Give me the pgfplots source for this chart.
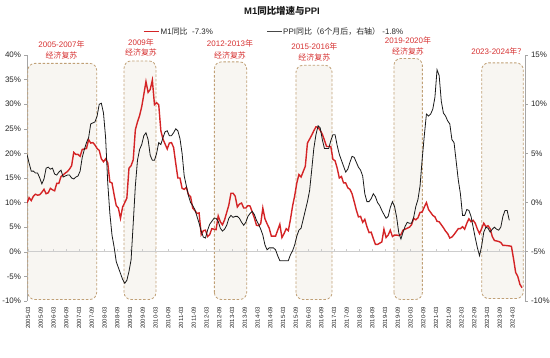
\documentclass[border=0pt]{standalone}
\usepackage{fontspec}
\setmainfont{Liberation Sans}
\newfontfamily\cjk{Noto Sans CJK SC}
\usepackage{pgfplots}
\usepackage{pgfplotstable}
\pgfplotsset{compat=1.18}
\definecolor{mred}{RGB}{212,36,38}
\definecolor{anno}{RGB}{214,50,50}
\definecolor{pblack}{RGB}{25,25,25}
\definecolor{boxfill}{RGB}{248,246,242}
\definecolor{boxline}{RGB}{192,160,118}
\definecolor{axgray}{RGB}{165,165,165}
\definecolor{zgray}{RGB}{205,205,205}

% M1 YoY, 2005-03 .. 2024-08
\pgfplotstableread[row sep=\\]{
v\\
9.9\\ 11.0\\ 10.4\\ 11.3\\ 11.7\\ 11.5\\ 11.6\\ 12.1\\ 12.7\\ 11.8\\
12.0\\ 12.9\\ 12.6\\ 12.4\\ 13.9\\ 13.9\\ 15.3\\ 15.6\\ 16.0\\ 16.3\\ 16.8\\ 17.5\\
20.2\\ 19.8\\ 19.8\\ 19.4\\ 20.8\\ 20.9\\ 21.0\\ 22.8\\ 22.1\\ 22.2\\ 21.7\\ 21.0\\
20.6\\ 18.9\\ 18.3\\ 18.9\\ 18.1\\ 14.2\\ 14.0\\ 11.6\\ 9.4\\ 8.9\\ 6.8\\ 9.1\\
10.0\\ 10.9\\ 17.0\\ 17.5\\ 18.7\\ 24.8\\ 26.4\\ 27.7\\ 29.5\\ 32.0\\ 34.6\\ 32.4\\
33.0\\ 34.9\\ 29.9\\ 30.3\\ 29.9\\ 24.6\\ 22.9\\ 21.9\\ 20.9\\ 22.1\\ 22.2\\ 21.2\\
18.0\\ 15.0\\ 15.0\\ 12.9\\ 12.7\\ 13.1\\ 11.6\\ 11.2\\ 8.9\\ 8.4\\ 7.8\\ 7.9\\
3.5\\ 4.3\\ 4.4\\ 3.1\\ 3.5\\ 4.7\\ 4.6\\ 4.5\\ 7.3\\ 6.1\\ 5.5\\ 6.5\\
8.0\\ 9.5\\ 11.9\\ 11.9\\ 11.3\\ 9.1\\ 9.7\\ 9.9\\ 8.9\\ 8.9\\ 9.4\\ 9.3\\
8.1\\ 6.9\\ 5.4\\ 5.3\\ 5.7\\ 8.9\\ 6.7\\ 5.7\\ 4.8\\ 3.2\\ 3.2\\ 3.2\\
4.4\\ 5.6\\ 2.9\\ 3.7\\ 4.7\\ 4.3\\ 6.6\\ 9.3\\ 11.4\\ 14.0\\ 15.7\\ 15.2\\
16.3\\ 17.4\\ 22.1\\ 22.9\\ 23.7\\ 24.6\\ 25.4\\ 25.3\\ 24.7\\ 23.9\\ 22.7\\ 21.4\\
21.4\\ 21.4\\ 18.8\\ 18.5\\ 17.0\\ 15.0\\ 15.3\\ 14.0\\ 14.0\\ 13.0\\ 12.7\\ 11.8\\
10.2\\ 8.5\\ 7.1\\ 7.2\\ 6.0\\ 6.6\\ 5.1\\ 3.9\\ 4.0\\ 2.7\\ 1.5\\ 1.5\\
1.75\\ 2.0\\ 4.6\\ 2.9\\ 3.4\\ 4.4\\ 3.1\\ 3.4\\ 3.4\\ 3.3\\ 3.5\\ 4.4\\
4.6\\ 4.8\\ 5.0\\ 5.5\\ 6.8\\ 6.5\\ 6.9\\ 8.0\\ 8.1\\ 9.1\\ 10.0\\ 8.6\\
8.0\\ 7.4\\ 7.1\\ 6.2\\ 6.1\\ 5.5\\ 4.9\\ 4.2\\ 3.7\\ 2.8\\ 3.0\\ 3.5\\
4.1\\ 4.7\\ 4.7\\ 5.1\\ 4.6\\ 5.8\\ 6.7\\ 6.1\\ 6.4\\ 5.8\\ 4.6\\ 3.7\\
4.75\\ 5.8\\ 5.1\\ 5.3\\ 4.7\\ 3.1\\ 2.3\\ 2.2\\ 2.1\\ 1.9\\ 1.3\\ 1.3\\
1.25\\ 1.2\\ 1.1\\ -1.4\\ -4.2\\ -5.0\\ -6.6\\ -7.3\\
}\mone

% PPI YoY shifted 6 months: plotted at 2005-03 .. 2024-02 = PPI 2005-09 .. 2024-08
\pgfplotstableread[row sep=\\]{
v\\
4.9\\ 4.0\\ 3.2\\ 3.2\\
3.0\\ 3.0\\ 2.5\\ 1.9\\ 2.4\\ 3.5\\ 3.6\\ 3.4\\ 3.5\\ 2.9\\ 2.8\\ 3.1\\
3.3\\ 2.6\\ 2.7\\ 2.8\\ 2.8\\ 2.5\\ 2.4\\ 2.6\\ 2.7\\ 3.2\\ 4.6\\ 5.4\\
6.1\\ 6.6\\ 8.0\\ 8.1\\ 8.2\\ 8.8\\ 10.0\\ 10.1\\ 9.1\\ 6.6\\ 2.0\\ -1.1\\
-3.3\\ -4.5\\ -6.0\\ -6.6\\ -7.2\\ -7.8\\ -8.2\\ -7.9\\ -7.0\\ -5.8\\ -2.1\\ 1.7\\
4.3\\ 5.4\\ 5.9\\ 6.8\\ 7.1\\ 6.4\\ 4.8\\ 4.3\\ 4.3\\ 5.0\\ 6.1\\ 5.9\\
6.6\\ 7.2\\ 7.3\\ 6.8\\ 6.8\\ 7.1\\ 7.5\\ 7.3\\ 6.5\\ 5.0\\ 2.7\\ 1.7\\
0.7\\ 0.0\\ -0.3\\ -0.7\\ -1.4\\ -2.1\\ -2.9\\ -3.5\\ -3.6\\ -2.8\\ -2.2\\ -1.9\\
-1.6\\ -1.6\\ -1.9\\ -2.6\\ -2.9\\ -2.7\\ -2.3\\ -1.6\\ -1.3\\ -1.5\\ -1.4\\ -1.4\\
-1.6\\ -2.0\\ -2.3\\ -2.0\\ -1.4\\ -1.1\\ -0.9\\ -1.2\\ -1.8\\ -2.2\\ -2.7\\ -3.3\\
-4.3\\ -4.8\\ -4.6\\ -4.6\\ -4.6\\ -4.8\\ -5.4\\ -5.9\\ -5.9\\ -5.9\\ -5.9\\ -5.9\\
-5.3\\ -4.9\\ -4.3\\ -3.4\\ -2.8\\ -2.6\\ -1.7\\ -0.8\\ 0.1\\ 1.2\\ 3.3\\ 5.5\\
6.9\\ 7.8\\ 7.6\\ 6.4\\ 5.5\\ 5.5\\ 5.5\\ 6.3\\ 6.9\\ 6.9\\ 5.8\\ 4.9\\
4.3\\ 3.7\\ 3.1\\ 3.4\\ 4.1\\ 4.7\\ 4.6\\ 4.1\\ 3.6\\ 3.3\\ 2.7\\ 0.9\\
0.1\\ 0.1\\ 0.4\\ 0.9\\ 0.6\\ 0.0\\ -0.3\\ -0.8\\ -1.2\\ -1.6\\ -1.4\\ -0.5\\
0.1\\ -0.4\\ -1.5\\ -3.1\\ -3.7\\ -3.0\\ -2.4\\ -2.0\\ -2.1\\ -2.1\\ -1.5\\ -0.4\\
0.3\\ 1.7\\ 4.4\\ 6.8\\ 9.0\\ 8.8\\ 9.0\\ 9.5\\ 10.7\\ 13.5\\ 12.9\\ 10.3\\
9.1\\ 8.8\\ 8.3\\ 8.0\\ 6.4\\ 6.1\\ 4.2\\ 2.3\\ 0.9\\ -1.3\\ -1.3\\ -0.7\\
-0.8\\ -1.4\\ -2.5\\ -3.6\\ -4.6\\ -5.4\\ -4.4\\ -3.0\\ -2.5\\ -2.6\\ -3.0\\ -2.7\\
-2.5\\ -2.7\\ -2.8\\ -2.5\\ -1.4\\ -0.8\\ -0.8\\ -1.8\\
}\ppi

\pgfplotsset{
  basegeom/.style={
    at={(27bp,57bp)}, anchor=south west, scale only axis,
    width=498bp, height=246bp, xmin=0, xmax=234.4,
    tick align=outside, major tick length=2.5bp,
    yticklabel style={font=\fontsize{8}{9}\selectfont, text=black!85},
  }
}

\begin{document}
\begin{tikzpicture}
\path[use as bounding box] (0,0) rectangle (550bp,358bp);

\begin{axis}[basegeom,
  ymin=-10, ymax=40,
  axis y line*=left, axis x line*=bottom,
  x axis line style={draw=none},
  y axis line style={axgray, line width=0.6bp},
  ytick={-10,-5,...,40},
  yticklabels={-10\%,-5\%,0\%,5\%,10\%,15\%,20\%,25\%,30\%,35\%,40\%},
  xtick={0.5,6.5,...,228.5},
  xticklabels={2005-03,2005-09,2006-03,2006-09,2007-03,2007-09,2008-03,2008-09,2009-03,2009-09,2010-03,2010-09,2011-03,2011-09,2012-03,2012-09,2013-03,2013-09,2014-03,2014-09,2015-03,2015-09,2016-03,2016-09,2017-03,2017-09,2018-03,2018-09,2019-03,2019-09,2020-03,2020-09,2021-03,2021-09,2022-03,2022-09,2023-03,2023-09,2024-03},
  x tick style={draw=none},
  y tick style={axgray, line width=0.6bp},
  xticklabel style={font=\fontsize{6}{7}\selectfont, rotate=90, anchor=east, text=black!85},
]
\tikzset{rbox/.style={draw=boxline, fill=boxfill, dash pattern=on 2.5bp off 1.8bp, line width=0.8bp, rounded corners=7bp}}
\draw[rbox] (axis cs:0.4,-9.7) rectangle (axis cs:32.8,38.3);
\draw[rbox] (axis cs:45.7,-9.7) rectangle (axis cs:60.7,38.8);
\draw[rbox] (axis cs:88.2,-9.7) rectangle (axis cs:103.4,38.6);
\draw[rbox] (axis cs:126.6,-9.7) rectangle (axis cs:143.6,37.9);
\draw[rbox] (axis cs:172.7,-9.7) rectangle (axis cs:186.1,39.3);
\draw[rbox] (axis cs:214.0,-9.5) rectangle (axis cs:233.6,38.4);
\draw[zgray, line width=1.3bp] (axis cs:0,0) -- (axis cs:234.4,0);
\pgfplotsinvokeforeach{0,...,38}{\draw[zgray, line width=0.6bp] (axis cs:{0.5+6*#1},0) -- ([yshift=2.5bp]axis cs:{0.5+6*#1},0);}
\addplot[mred, line width=1.4bp, no markers] table[x expr=\coordindex, y=v] {\mone};
\end{axis}

\begin{axis}[basegeom,
  ymin=-10, ymax=15,
  axis y line*=right, axis x line=none,
  y axis line style={axgray, line width=0.6bp},
  y tick style={axgray, line width=0.6bp},
  ytick={-10,-5,...,15},
  yticklabels={-10\%,-5\%,0\%,5\%,10\%,15\%},
]
\addplot[pblack, line width=0.8bp, no markers] table[x expr=\coordindex, y=v] {\ppi};
\end{axis}

% title
\node[font=\fontsize{9.5}{11}\selectfont\bfseries, text=black!90] at (282bp,347.5bp) {M1{\cjk 同比增速与}PPI};
% legend
\draw[mred, line width=1.4bp] (143.5bp,326.5bp) -- (159.3bp,326.5bp);
\node[anchor=west, inner sep=0pt, font=\fontsize{8}{9}\selectfont, text=black!85] at (160.5bp,326.5bp) {M1{\cjk 同比}\ \ -7.3\%};
\draw[pblack!80, line width=1.4bp] (267.2bp,326.5bp) -- (282bp,326.5bp);
\node[anchor=west, inner sep=0pt, font=\fontsize{8}{9}\selectfont, text=black!85] at (283bp,326.5bp) {PPI{\cjk 同比（}6{\cjk 个月后，右轴）}\ -1.8\%};
% annotations
\tikzset{ann/.style={font=\fontsize{8}{9}\selectfont, text=anno, inner sep=0pt}}
\node[ann] at (61.5bp,313.1bp) {2005-2007{\cjk 年}};
\node[ann] at (61.5bp,302.6bp) {\cjk 经济复苏};
\node[ann] at (141bp,316bp) {2009{\cjk 年}};
\node[ann] at (141bp,305.4bp) {\cjk 经济复苏};
\node[ann] at (230bp,314.2bp) {2012-2013{\cjk 年}};
\node[ann] at (230bp,303bp) {\cjk 经济复苏};
\node[ann] at (314.4bp,311.4bp) {2015-2016{\cjk 年}};
\node[ann] at (314.4bp,300.9bp) {\cjk 经济复苏};
\node[ann] at (408bp,317.7bp) {2019-2020{\cjk 年}};
\node[ann] at (408bp,306.1bp) {\cjk 经济复苏};
\node[ann] at (498.4bp,306.5bp) {2023-2024{\cjk 年？}};
\end{tikzpicture}
\end{document}
